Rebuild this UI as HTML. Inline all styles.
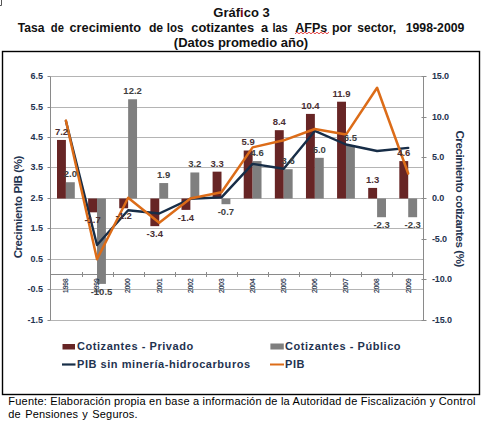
<!DOCTYPE html>
<html><head><meta charset="utf-8"><style>
html,body{margin:0;padding:0;background:#fff;width:481px;height:423px;overflow:hidden;}
.t{position:absolute;font-family:"Liberation Sans",sans-serif;white-space:pre;}
</style></head><body>
<svg width="481" height="423" style="position:absolute;left:0;top:0">
<rect x="2.5" y="51.5" width="477" height="343" fill="none" stroke="#000" stroke-width="1.4"/>
<path d="M1.5 0 V5.5 H0" fill="none" stroke="#555" stroke-width="1"/>
<g font-family="Liberation Sans" font-weight="bold" font-size="13" fill="#111" text-anchor="middle">
<text x="241.5" y="17">Gráf<tspan fill="#7a0a18">i</tspan>co 3</text>
<g text-anchor="start"><text x="17.7" y="32" textLength="26.67" lengthAdjust="spacingAndGlyphs">Tasa</text><text x="50.8" y="32" textLength="13.07" lengthAdjust="spacingAndGlyphs">de</text><text x="69.5" y="32" textLength="71.57" lengthAdjust="spacingAndGlyphs">crecimiento</text><text x="148.9" y="32" textLength="14.27" lengthAdjust="spacingAndGlyphs">de</text><text x="166.8" y="32" textLength="16.68" lengthAdjust="spacingAndGlyphs">los</text><text x="191.3" y="32" textLength="62.77" lengthAdjust="spacingAndGlyphs">cotizantes</text><text x="261.0" y="32" textLength="7.13" lengthAdjust="spacingAndGlyphs">a</text><text x="272.4" y="32" textLength="15.38" lengthAdjust="spacingAndGlyphs">las</text><text x="295.3" y="32" textLength="32.03" lengthAdjust="spacingAndGlyphs">AFPs</text><text x="331.9" y="32" textLength="19.94" lengthAdjust="spacingAndGlyphs">por</text><text x="357.3" y="32" textLength="38.71" lengthAdjust="spacingAndGlyphs">sector,</text><text x="405.7" y="32" textLength="58.67" lengthAdjust="spacingAndGlyphs">1998-2009</text></g>
<text x="241" y="47">(Datos promedio año)</text>
</g>
<polyline points="295.0,33.8 297.0,32.2 299.0,33.8 301.0,32.2 303.0,33.8 305.0,32.2 307.0,33.8 309.0,32.2 311.0,33.8 313.0,32.2 315.0,33.8 317.0,32.2 319.0,33.8 321.0,32.2 323.0,33.8 325.0,32.2 327.0,33.8 329.0,32.2" fill="none" stroke="#e03030" stroke-width="0.9"/>
<line x1="50.5" y1="76.5" x2="423.5" y2="76.5" stroke="#b4b4b4" stroke-width="1"/><line x1="50.5" y1="107.5" x2="423.5" y2="107.5" stroke="#b4b4b4" stroke-width="1"/><line x1="50.5" y1="137.5" x2="423.5" y2="137.5" stroke="#b4b4b4" stroke-width="1"/><line x1="50.5" y1="167.5" x2="423.5" y2="167.5" stroke="#b4b4b4" stroke-width="1"/><line x1="50.5" y1="198.5" x2="423.5" y2="198.5" stroke="#b4b4b4" stroke-width="1"/><line x1="50.5" y1="228.5" x2="423.5" y2="228.5" stroke="#b4b4b4" stroke-width="1"/><line x1="50.5" y1="259.5" x2="423.5" y2="259.5" stroke="#b4b4b4" stroke-width="1"/><line x1="50.5" y1="289.5" x2="423.5" y2="289.5" stroke="#b4b4b4" stroke-width="1"/><line x1="50.5" y1="320.5" x2="423.5" y2="320.5" stroke="#b4b4b4" stroke-width="1"/><line x1="50.5" y1="274.5" x2="423.5" y2="274.5" stroke="#8a8a8a" stroke-width="1"/><line x1="82.5" y1="272.0" x2="82.5" y2="277.0" stroke="#8a8a8a" stroke-width="1"/><line x1="113.5" y1="272.0" x2="113.5" y2="277.0" stroke="#8a8a8a" stroke-width="1"/><line x1="144.5" y1="272.0" x2="144.5" y2="277.0" stroke="#8a8a8a" stroke-width="1"/><line x1="175.5" y1="272.0" x2="175.5" y2="277.0" stroke="#8a8a8a" stroke-width="1"/><line x1="206.5" y1="272.0" x2="206.5" y2="277.0" stroke="#8a8a8a" stroke-width="1"/><line x1="237.5" y1="272.0" x2="237.5" y2="277.0" stroke="#8a8a8a" stroke-width="1"/><line x1="268.5" y1="272.0" x2="268.5" y2="277.0" stroke="#8a8a8a" stroke-width="1"/><line x1="299.5" y1="272.0" x2="299.5" y2="277.0" stroke="#8a8a8a" stroke-width="1"/><line x1="330.5" y1="272.0" x2="330.5" y2="277.0" stroke="#8a8a8a" stroke-width="1"/><line x1="361.5" y1="272.0" x2="361.5" y2="277.0" stroke="#8a8a8a" stroke-width="1"/><line x1="392.5" y1="272.0" x2="392.5" y2="277.0" stroke="#8a8a8a" stroke-width="1"/><line x1="50.5" y1="76.5" x2="50.5" y2="320.5" stroke="#8a8a8a" stroke-width="1"/><line x1="47.5" y1="76.5" x2="50.5" y2="76.5" stroke="#8a8a8a" stroke-width="1"/><line x1="47.5" y1="107.5" x2="50.5" y2="107.5" stroke="#8a8a8a" stroke-width="1"/><line x1="47.5" y1="137.5" x2="50.5" y2="137.5" stroke="#8a8a8a" stroke-width="1"/><line x1="47.5" y1="167.5" x2="50.5" y2="167.5" stroke="#8a8a8a" stroke-width="1"/><line x1="47.5" y1="198.5" x2="50.5" y2="198.5" stroke="#8a8a8a" stroke-width="1"/><line x1="47.5" y1="228.5" x2="50.5" y2="228.5" stroke="#8a8a8a" stroke-width="1"/><line x1="47.5" y1="259.5" x2="50.5" y2="259.5" stroke="#8a8a8a" stroke-width="1"/><line x1="47.5" y1="289.5" x2="50.5" y2="289.5" stroke="#8a8a8a" stroke-width="1"/><line x1="47.5" y1="320.5" x2="50.5" y2="320.5" stroke="#8a8a8a" stroke-width="1"/><line x1="423.5" y1="76.5" x2="423.5" y2="320.5" stroke="#8a8a8a" stroke-width="1"/><line x1="421.5" y1="76.5" x2="426.5" y2="76.5" stroke="#8a8a8a" stroke-width="1"/><line x1="421.5" y1="117.5" x2="426.5" y2="117.5" stroke="#8a8a8a" stroke-width="1"/><line x1="421.5" y1="157.5" x2="426.5" y2="157.5" stroke="#8a8a8a" stroke-width="1"/><line x1="421.5" y1="198.5" x2="426.5" y2="198.5" stroke="#8a8a8a" stroke-width="1"/><line x1="421.5" y1="239.5" x2="426.5" y2="239.5" stroke="#8a8a8a" stroke-width="1"/><line x1="421.5" y1="279.5" x2="426.5" y2="279.5" stroke="#8a8a8a" stroke-width="1"/><line x1="421.5" y1="320.5" x2="426.5" y2="320.5" stroke="#8a8a8a" stroke-width="1"/><rect x="57.00" y="139.94" width="8.9" height="58.56" fill="#672525"/><rect x="65.90" y="182.23" width="8.9" height="16.27" fill="#7f7f7f"/><rect x="88.12" y="198.50" width="8.9" height="13.83" fill="#672525"/><rect x="97.02" y="198.50" width="8.9" height="85.40" fill="#7f7f7f"/><rect x="119.24" y="198.50" width="8.9" height="9.76" fill="#672525"/><rect x="128.14" y="99.27" width="8.9" height="99.23" fill="#7f7f7f"/><rect x="150.36" y="198.50" width="8.9" height="27.65" fill="#672525"/><rect x="159.26" y="183.05" width="8.9" height="15.45" fill="#7f7f7f"/><rect x="181.48" y="198.50" width="8.9" height="11.39" fill="#672525"/><rect x="190.38" y="172.47" width="8.9" height="26.03" fill="#7f7f7f"/><rect x="212.60" y="171.66" width="8.9" height="26.84" fill="#672525"/><rect x="221.50" y="198.50" width="8.9" height="5.69" fill="#7f7f7f"/><rect x="243.72" y="150.51" width="8.9" height="47.99" fill="#672525"/><rect x="252.62" y="161.09" width="8.9" height="37.41" fill="#7f7f7f"/><rect x="274.84" y="130.18" width="8.9" height="68.32" fill="#672525"/><rect x="283.74" y="169.22" width="8.9" height="29.28" fill="#7f7f7f"/><rect x="305.96" y="113.91" width="8.9" height="84.59" fill="#672525"/><rect x="314.86" y="157.83" width="8.9" height="40.67" fill="#7f7f7f"/><rect x="337.08" y="101.71" width="8.9" height="96.79" fill="#672525"/><rect x="345.98" y="145.63" width="8.9" height="52.87" fill="#7f7f7f"/><rect x="368.20" y="187.93" width="8.9" height="10.57" fill="#672525"/><rect x="377.10" y="198.50" width="8.9" height="18.71" fill="#7f7f7f"/><rect x="399.32" y="161.09" width="8.9" height="37.41" fill="#672525"/><rect x="408.22" y="198.50" width="8.9" height="18.71" fill="#7f7f7f"/><polyline points="65.90,121 97.02,245 128.14,210.3 159.26,213.5 190.38,198.8 221.50,197.4 252.62,163.9 283.74,168.8 314.86,130.9 345.98,144.5 377.10,151 408.22,147.9" fill="none" stroke="#172d47" stroke-width="2.4" stroke-linejoin="round" stroke-linecap="round"/><polyline points="65.90,120.6 97.02,259.3 128.14,197.7 159.26,222.8 190.38,198.5 221.50,192.2 252.62,147.4 283.74,140.3 314.86,129 345.98,134.6 377.10,87.7 408.22,173.5" fill="none" stroke="#dc6c18" stroke-width="2.5" stroke-linejoin="round" stroke-linecap="round"/><g font-family="Liberation Sans" font-weight="bold" font-size="9.5"><text x="61.5" y="134.8" fill="#4a2f33" text-anchor="middle">7.2</text><text x="70.4" y="177.1" fill="#404040" text-anchor="middle">2.0</text><text x="92.6" y="222.9" fill="#4a2f33" text-anchor="middle">-1.7</text><text x="101.5" y="294.5" fill="#404040" text-anchor="middle">-10.5</text><text x="123.7" y="218.9" fill="#4a2f33" text-anchor="middle">-1.2</text><text x="132.6" y="94.2" fill="#404040" text-anchor="middle">12.2</text><text x="154.8" y="236.8" fill="#4a2f33" text-anchor="middle">-3.4</text><text x="163.7" y="177.9" fill="#404040" text-anchor="middle">1.9</text><text x="185.9" y="220.5" fill="#4a2f33" text-anchor="middle">-1.4</text><text x="194.8" y="167.4" fill="#404040" text-anchor="middle">3.2</text><text x="217.1" y="166.6" fill="#4a2f33" text-anchor="middle">3.3</text><text x="225.9" y="214.8" fill="#404040" text-anchor="middle">-0.7</text><text x="248.2" y="145.4" fill="#4a2f33" text-anchor="middle">5.9</text><text x="257.1" y="156.0" fill="#404040" text-anchor="middle">4.6</text><text x="279.3" y="125.1" fill="#4a2f33" text-anchor="middle">8.4</text><text x="288.2" y="164.1" fill="#404040" text-anchor="middle">3.6</text><text x="310.4" y="108.8" fill="#4a2f33" text-anchor="middle">10.4</text><text x="319.3" y="152.7" fill="#404040" text-anchor="middle">5.0</text><text x="341.5" y="96.6" fill="#4a2f33" text-anchor="middle">11.9</text><text x="350.4" y="140.5" fill="#404040" text-anchor="middle">6.5</text><text x="372.7" y="182.8" fill="#4a2f33" text-anchor="middle">1.3</text><text x="381.6" y="227.8" fill="#404040" text-anchor="middle">-2.3</text><text x="403.8" y="156.0" fill="#4a2f33" text-anchor="middle">4.6</text><text x="412.7" y="227.8" fill="#404040" text-anchor="middle">-2.3</text></g><g font-family="Liberation Sans" font-weight="bold" font-size="9" fill="#1f3350"><text x="43" y="78.7" text-anchor="end">6.5</text><text x="43" y="109.7" text-anchor="end">5.5</text><text x="43" y="139.7" text-anchor="end">4.5</text><text x="43" y="169.7" text-anchor="end">3.5</text><text x="43" y="200.7" text-anchor="end">2.5</text><text x="43" y="230.7" text-anchor="end">1.5</text><text x="43" y="261.7" text-anchor="end">0.5</text><text x="43" y="291.7" text-anchor="end">-0.5</text><text x="43" y="322.7" text-anchor="end">-1.5</text><text x="432" y="78.8" letter-spacing="-0.15">15.0</text><text x="432" y="119.8" letter-spacing="-0.15">10.0</text><text x="432" y="159.8" letter-spacing="-0.15">5.0</text><text x="432" y="200.8" letter-spacing="-0.15">0.0</text><text x="432" y="241.8" letter-spacing="-0.15">-5.0</text><text x="432" y="281.8" letter-spacing="-0.15">-10.0</text><text x="432" y="322.8" letter-spacing="-0.15">-15.0</text></g><g font-family="Liberation Sans" font-size="6.6" fill="#14263d" stroke="#14263d" stroke-width="0.15"><text transform="translate(68.2,293) rotate(-90)">1998</text><text transform="translate(99.3,293) rotate(-90)">1999</text><text transform="translate(130.4,293) rotate(-90)">2000</text><text transform="translate(161.6,293) rotate(-90)">2001</text><text transform="translate(192.7,293) rotate(-90)">2002</text><text transform="translate(223.8,293) rotate(-90)">2003</text><text transform="translate(254.9,293) rotate(-90)">2004</text><text transform="translate(286.0,293) rotate(-90)">2005</text><text transform="translate(317.2,293) rotate(-90)">2006</text><text transform="translate(348.3,293) rotate(-90)">2007</text><text transform="translate(379.4,293) rotate(-90)">2008</text><text transform="translate(410.5,293) rotate(-90)">2009</text></g><text transform="translate(21.9,207.2) rotate(-90)" text-anchor="middle" letter-spacing="-0.4" font-family="Liberation Sans" font-weight="bold" font-size="11.5" fill="#1f3350">Crecimiento PIB (%)</text><text transform="translate(455.7,198.7) rotate(90)" text-anchor="middle" letter-spacing="-0.4" font-family="Liberation Sans" font-weight="bold" font-size="11.5" fill="#1f3350">Crecimiento cotizantes (%)</text><rect x="62.5" y="344" width="12.5" height="5.5" fill="#672525"/><rect x="270.4" y="343.5" width="13.4" height="6" fill="#7f7f7f"/><line x1="62" y1="364.5" x2="75.5" y2="364.5" stroke="#172d47" stroke-width="2.2"/><line x1="270" y1="364.5" x2="284" y2="364.5" stroke="#dc6c18" stroke-width="2"/><g font-family="Liberation Sans" font-weight="bold" font-size="11" letter-spacing="0.55" fill="#1f3350"><text x="77" y="350">Cotizantes - Privado</text><text x="77" y="368">PIB sin minería-hidrocarburos</text><text x="285" y="350">Cotizantes - Público</text><text x="285" y="368">PIB</text></g>
<g font-family="Liberation Sans" font-size="11" fill="#000">
<text x="8.3" y="404.7" letter-spacing="0.21">Fuente: Elaboración propia en base a información de la Autoridad de Fiscalización y Control</text>
<text x="8.3" y="417.5" letter-spacing="0.18" word-spacing="1">de Pensiones y Seguros.</text>
</g>
</svg>
</body></html>
